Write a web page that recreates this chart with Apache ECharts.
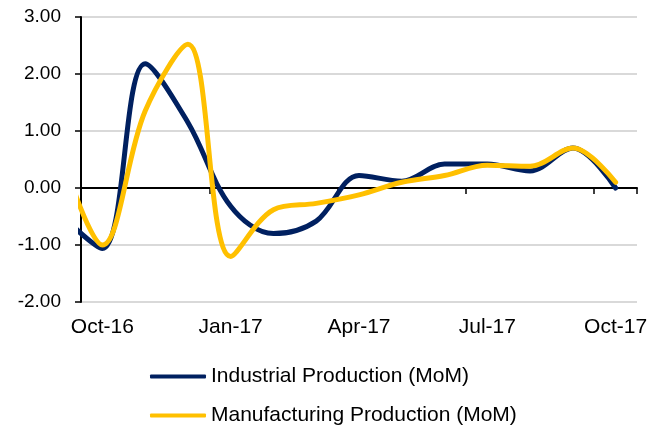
<!DOCTYPE html>
<html>
<head>
<meta charset="utf-8">
<script src="https://cdn.jsdelivr.net/npm/echarts@6/dist/echarts.min.js"></script>
<style>
  html, body { margin: 0; padding: 0; background: #fff; }
  #chart { width: 663px; height: 427px; }
</style>
</head>
<body>
<div id="chart"></div>
<script>
// monthly points, Sep-16 sits left of the axis and gets clipped
const months = ['Sep-16', 'Oct-16', 'Nov-16', 'Dec-16', 'Jan-17', 'Feb-17', 'Mar-17',
  'Apr-17', 'May-17', 'Jun-17', 'Jul-17', 'Aug-17', 'Sep-17', 'Oct-17']
const industrial = [-0.45, -1.06, 2.18, 1.15, -0.32, -0.8, -0.58, 0.22, 0.12, 0.42, 0.42, 0.3, 0.7, 0.0]
const manufacturing = [0.7, -1.0, 1.35, 2.52, -1.2, -0.38, -0.27, -0.12, 0.1, 0.22, 0.4, 0.38, 0.7, 0.1]
const axisMonths = months.slice(1)
const yTicks = [-2, -1, 0, 1, 2, 3]
const names = ['Industrial Production (MoM)', 'Manufacturing Production (MoM)']
const colors = ['#002060', '#FFC000']

const font = 'Liberation Sans, Arial, sans-serif'
const toPoints = arr => arr.map((v, i) => [i - 0.5, v])

const legendAt = (name, top) => ({
  orient: 'vertical',
  left: 150,
  top: top,
  padding: 0,
  icon: 'roundRect',
  itemWidth: 56,
  itemHeight: 4,
  textStyle: { fontSize: 21, color: '#000', fontFamily: font },
  data: [name]
})

const chart = echarts.init(document.getElementById('chart'))
chart.setOption({
  animation: false,
  textStyle: { fontFamily: font, color: '#000' },
  grid: { left: 81, right: 26, top: 17, bottom: 125 },
  xAxis: [
    {
      type: 'value',
      min: 0,
      max: 13,
      interval: 3,
      position: 'bottom',
      axisLine: { onZero: true, lineStyle: { color: '#000', width: 2 } },
      axisTick: { show: true, length: 6, lineStyle: { color: '#000', width: 1.5 } },
      axisLabel: { show: false },
      splitLine: { show: false }
    },
    {
      type: 'category',
      data: axisMonths,
      boundaryGap: true,
      position: 'bottom',
      axisLine: { show: false, onZero: false },
      axisTick: { show: false },
      axisLabel: { interval: 2, margin: 15, fontSize: 21, color: '#000', fontFamily: font },
      splitLine: { show: false }
    }
  ],
  yAxis: {
    type: 'value',
    min: yTicks[0],
    max: yTicks[yTicks.length - 1],
    interval: 1,
    axisLine: { show: true, lineStyle: { color: '#000', width: 2 } },
    axisTick: { show: true, length: 6, lineStyle: { color: '#000', width: 1.5 } },
    axisLabel: { margin: 20, fontSize: 19, color: '#000', fontFamily: font, formatter: v => v.toFixed(2) },
    splitLine: { lineStyle: { color: '#d9d9d9', width: 2 } }
  },
  legend: [legendAt(names[0], 366), legendAt(names[1], 405)],
  series: [industrial, manufacturing].map((vals, k) => ({
    name: names[k],
    type: 'line',
    xAxisIndex: 0,
    smooth: 0.35,
    symbol: 'none',
    clip: true,
    data: toPoints(vals),
    lineStyle: { color: colors[k], width: 5, cap: 'round' },
    itemStyle: { color: colors[k] }
  }))
})
</script>
</body>
</html>
